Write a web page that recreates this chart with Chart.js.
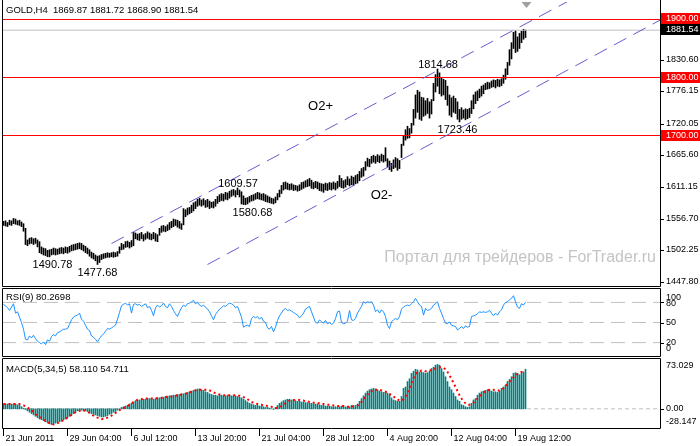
<!DOCTYPE html>
<html>
<head>
<meta charset="utf-8">
<script src="https://cdn.jsdelivr.net/npm/chart.js@4.4.1/dist/chart.umd.min.js"></script>
<style>
  body { margin: 0; background: #fff; }
  #wrap { position: relative; width: 700px; height: 446px; overflow: hidden; }
  canvas { position: absolute; left: 0; }
</style>
</head>
<body>
<div id="wrap">
  <canvas id="priceChart" width="700" height="288" style="top:0px"></canvas>
  <canvas id="rsiChart" width="700" height="69" style="top:288px"></canvas>
  <canvas id="macdChart" width="700" height="89" style="top:357px"></canvas>
</div>
<script>
document.addEventListener("DOMContentLoaded", () => {

const FONT = "'Liberation Sans', Arial, sans-serif";

// H4 bars (index 0 = first bar on the left)
const highs = [
  1552,1553,1550,1554,1553,1557,1556,1553,1554,1551,
  1548,1540,1520,1523,1524,1522,1523,1520,1517,1508,
  1506,1505,1502,1503,1504,1506,1505,1504,1506,1507,
  1506,1508,1507,1509,1511,1512,1513,1514,1515,1514,
  1511,1509,1506,1503,1499,1497,1494,1492,1493,1495,
  1496,1497,1498,1497,1498,1499,1498,1500,1508,1514,
  1512,1517,1518,1516,1519,1533,1532,1530,1531,1533,
  1529,1531,1534,1532,1530,1533,1531,1529,1540,1544,
  1545,1543,1546,1550,1552,1556,1555,1554,1552,1548,
  1574,1572,1575,1576,1580,1584,1586,1590,1592,1589,
  1591,1588,1590,1587,1585,1586,1590,1595,1598,1600,
  1599,1602,1601,1604,1606,1607,1605,1609.57,1606,1603,
  1596,1592,1593,1595,1597,1598,1600,1602,1601,1599,
  1600,1598,1596,1594,1592,1591,1594,1600,1606,1614,
  1619,1620,1618,1616,1617,1615,1614,1613,1615,1619,
  1620,1622,1624,1626,1623,1619,1621,1620,1618,1617,
  1616,1618,1617,1619,1618,1620,1618,1621,1631,1626,
  1622,1624,1629,1625,1630,1628,1631,1633,1638,1643,
  1645,1655,1661,1659,1664,1666,1664,1667,1665,1668,
  1666,1679,1660,1656,1652,1658,1662,1660,1657,1685,
  1700,1710,1716,1712,1721,1745,1770,1778,1775,1766,
  1765,1760,1764,1758,1762,1790,1805,1814.68,1808,1800,
  1797,1795,1785,1770,1765,1768,1764,1758,1745,1748,
  1744,1746,1745,1747,1760,1770,1775,1777,1780,1785,
  1787,1790,1792,1791,1794,1796,1795,1797,1796,1798,
  1804,1815,1826,1848,1860,1878,1881,1870,1876,1880,
  1883,1881.72
];
const lows = [
  1545,1544,1543,1546,1545,1548,1547,1546,1545,1543,
  1535,1512,1510,1513,1514,1512,1514,1508,1498,1496,
  1494,1493,1491,1490.78,1494,1495,1494,1495,1496,1497,
  1496,1498,1497,1499,1501,1502,1503,1504,1505,1503,
  1501,1498,1496,1492,1489,1487,1484,1477.68,1481,1486,
  1488,1489,1490,1490,1491,1490,1491,1492,1497,1503,
  1504,1507,1508,1506,1508,1510,1522,1520,1519,1522,
  1518,1521,1523,1521,1520,1522,1518,1517,1528,1533,
  1535,1534,1536,1538,1541,1543,1545,1542,1540,1538,
  1546,1560,1563,1565,1567,1570,1574,1578,1580,1578,
  1580,1576,1577,1574,1576,1575,1578,1583,1586,1588,
  1587,1590,1589,1592,1595,1597,1594,1598,1594,1582,
  1581,1580.68,1582,1585,1587,1588,1590,1591,1590,1589,
  1588,1586,1585,1584,1583,1582,1584,1589,1594,1600,
  1606,1608,1607,1606,1607,1605,1606,1604,1605,1607,
  1609,1611,1612,1613,1609,1608,1610,1608,1605,1604,
  1602,1606,1605,1607,1606,1608,1606,1609,1612,1610,
  1609,1611,1615,1613,1615,1614,1617,1618,1622,1628,
  1630,1640,1647,1646,1652,1654,1652,1655,1653,1656,
  1654,1656,1646,1641,1638,1643,1645,1640,1643,1662,
  1683,1692,1695,1696,1704,1718,1730,1740,1728,1726,
  1733,1735,1738,1730,1737,1760,1775,1785,1772,1768,
  1770,1762,1752,1735,1732,1740,1738,1728,1723.46,1728,
  1730,1727,1729,1731,1738,1746,1755,1760,1765,1768,
  1772,1779,1780,1781,1783,1784,1782,1785,1784,1786,
  1790,1797,1805,1821,1832,1850,1843,1845,1850,1860,
  1866,1868.90
];

const rsiValues = [
  77,75,72,68,73,78,64,66,58,50,
  40,25,24,30,27,31,26,22,20,18,
  21,17,24,22,29,32,30,35,36,38,
  40,40,41,47,54,58,60,61,64,55,
  52,46,40,38,30,28,25,21,26,30,
  33,37,41,40,42,44,46,55,65,75,
  77,79,76,78,64,77,78,76,77,74,
  76,78,72,74,68,60,72,76,73,75,
  79,74,72,78,74,68,63,59,66,72,
  76,74,78,79,81,83,78,80,76,74,
  76,73,70,66,60,54,62,66,70,72,
  75,74,77,79,78,76,72,74,66,58,
  43,45,46,44,56,59,57,59,55,58,
  52,50,42,40,44,36,43,53,60,64,
  69,71,68,69,67,65,63,61,57,60,
  64,70,72,74,66,58,50,49,54,51,
  49,53,48,50,47,49,56,66,67,50,
  48,49,52,68,54,53,56,64,69,74,
  81,79,81,80,81,76,66,69,64,69,
  66,59,46,41,51,54,56,54,59,70,
  73,75,76,75,78,81,86,81,76,74,
  61,71,68,69,71,76,78,81,71,64,
  56,49,48,51,46,45,44,39,41,44,
  41,45,43,44,59,60,61,63,66,65,
  66,65,66,68,64,60,64,61,66,69,
  76,80,81,84,86,90,81,73,71,78,
  76,80.27
];

const macdMain = [
  7,7,7,7,7,7,7,6,5,3,
  1,-1,-3,-5,-7,-9,-11,-13,-15,-16,
  -17,-19,-20,-22,-23,-22,-21,-20,-19,-18,
  -16,-15,-13,-11,-9,-7,-5,-3,-2,-2,
  -3,-3,-4,-5,-7,-8,-9,-10,-11,-12,
  -12,-11,-10,-8,-7,-5,-4,-2,0,2,
  3,4,5,7,8,10,12,12,13,13,
  14,14,15,15,15,14,15,16,16,17,
  17,18,18,19,19,20,20,21,21,22,
  22,23,24,25,26,27,28,29,29,28,
  27,25,24,22,21,20,20,19,20,20,
  19,19,20,20,19,19,19,18,17,16,
  14,12,10,8,7,6,5,5,4,4,
  3,2,2,1,0,-1,2,5,8,10,
  12,13,14,14,13,13,12,11,11,10,
  10,9,9,8,8,7,7,7,6,5,
  5,4,4,4,3,3,3,2,3,4,
  3,3,2,3,5,3,5,7,11,15,
  19,23,26,28,29,30,29,28,26,25,
  24,24,23,20,16,13,12,11,11,18,
  30,32,40,44,52,55,58,57,54,54,
  53,52,53,55,59,61,64,65,64,59,
  54,47,40,32,28,23,18,13,11,6,
  5,3,2,3,8,13,15,20,23,25,
  26,27,28,28,26,25,25,24,26,30,
  32,35,40,43,47,52,53,52,50,52,
  54,58.11
];
const macdSignal = [
  7,7,7,7,7,7,7,7,7,6,
  5,4,2,0,-2,-5,-8,-10,-12,-14,
  -16,-18,-20,-21,-22,-23,-22,-21,-20,-18,
  -17,-15,-13,-11,-9,-7,-5,-4,-3,-2,
  -2,-3,-4,-6,-8,-10,-12,-13,-14,-15,
  -15,-14,-13,-12,-10,-8,-6,-4,-2,0,
  1,2,4,6,8,10,12,13,14,14,
  15,15,15,15,15,15,15,16,16,16,
  17,17,18,18,18,19,19,20,20,21,
  21,22,23,24,25,26,27,28,28,28,
  28,28,28,27,26,24,23,22,21,21,
  20,20,20,20,20,20,20,19,19,18,
  17,16,14,12,10,9,8,7,6,6,
  5,5,4,3,3,2,1,1,2,4,
  6,8,10,12,13,13,13,13,13,12,
  12,11,11,10,10,9,9,8,8,7,
  7,6,6,6,5,5,5,4,4,4,
  4,3,3,3,3,4,4,5,7,10,
  14,18,21,24,26,28,28,28,28,27,
  26,25,24,22,20,18,16,14,12,12,
  14,18,24,30,38,45,50,54,55,56,
  56,55,55,56,57,58,59,60,61,61,
  60,58,54,49,44,38,32,26,20,15,
  11,8,6,6,7,9,12,15,18,21,
  24,26,27,28,28,28,27,27,27,28,
  30,33,36,40,43,46,49,51,53,54,
  54,54.711
];

const dateIndex = [0, 32, 64, 96, 128, 160, 192, 224, 256];
const dateLabels = ["21 Jun 2011", "29 Jun 04:00", "6 Jul 12:00", "13 Jul 20:00",
  "21 Jul 04:00", "28 Jul 12:00", "4 Aug 20:00", "12 Aug 04:00", "19 Aug 12:00"];

const priceTicks = [1447.80, 1502.25, 1556.70, 1611.15, 1665.60, 1720.05, 1776.15, 1830.60];
const levelPrices = [1900, 1800, 1700];
const bidPrice = 1881.54;
const upperChannel = [[54, 1513.8], [290, 1945.5]];
const lowerChannel = [[102, 1477.6], [328.25, 1898.9]];

const rsiLevels = [80, 50, 20];
const rsiTickLabels = [100, 80, 50, 20, 0];
const macdTickLabels = [73.029, 0, -28.147];
const macdTickText = ["73.029", "0.00", "-28.147"];

const X_MIN = -0.75, X_MAX = 328.25;

// text marks placed on the price scale
const pointNotes = [
  { i: 24.5, p: 1490.78, text: "1490.78", dy: 8 },
  { i: 47, p: 1477.68, text: "1477.68", dy: 9 },
  { i: 117.3, p: 1609.57, text: "1609.57", dy: -4 },
  { i: 124.5, p: 1580.68, text: "1580.68", dy: 8 },
  { i: 217.3, p: 1814.68, text: "1814.68", dy: -4 },
  { i: 227, p: 1723.46, text: "1723.46", dy: 8 }
];
const waveNotes = [
  { i: 158.5, p: 1750, text: "O2+" },
  { i: 189, p: 1596.6, text: "O2-" }
];

function xAxis(show) {
  const axis = {
    type: "linear", min: X_MIN, max: X_MAX, offset: false, display: show,
    afterBuildTicks: s => { s.ticks = dateIndex.map(v => ({ value: v })); },
    ticks: {
      autoSkip: false, maxRotation: 0, minRotation: 0, align: "start",
      labelOffset: 2, padding: -3, color: "#000", font: { family: FONT, size: 9 },
      callback: v => dateLabels[dateIndex.indexOf(v)]
    },
    grid: { display: true, offset: false, drawOnChartArea: false, drawTicks: true, tickLength: 8, color: "#000" },
    border: { display: false }
  };
  if (show) axis.afterFit = s => { s.height = 18; };
  return axis;
}

function hLine(value, color, dash, width) {
  return {
    type: "line", order: 1,
    data: [{ x: X_MIN, y: value }, { x: X_MAX, y: value }],
    borderColor: color, borderWidth: width || 1, borderDash: dash || [],
    pointRadius: 0, tension: 0
  };
}

function frame(chart, withTop) {
  const { ctx, chartArea: a } = chart;
  const l = a.left + 0.5, r = a.right + 0.5, b = a.bottom + 0.5;
  const t = withTop ? a.top - 0.5 : 0;
  ctx.save();
  ctx.strokeStyle = "#000";
  ctx.lineWidth = 1;
  ctx.beginPath();
  ctx.moveTo(l, t); ctx.lineTo(l, b); ctx.lineTo(r, b); ctx.lineTo(r, t);
  if (withTop) ctx.lineTo(l, t);
  ctx.stroke();
  ctx.restore();
}

function sideText(chart, y, text, bg, fg, tick) {
  const { ctx, chartArea: a } = chart;
  ctx.save();
  if (tick) {
    ctx.strokeStyle = "#000";
    ctx.beginPath();
    ctx.moveTo(a.right + 1, Math.round(y) + 0.5);
    ctx.lineTo(a.right + 4, Math.round(y) + 0.5);
    ctx.stroke();
  }
  if (bg) {
    ctx.fillStyle = bg;
    ctx.fillRect(a.right + 1, Math.round(y) - 6, 40, 11);
  }
  ctx.fillStyle = fg || "#000";
  ctx.font = "9px " + FONT;
  ctx.textAlign = "left";
  ctx.textBaseline = "middle";
  ctx.fillText(text, a.right + 6, Math.round(y));
  ctx.restore();
}

function caption(chart, text, y) {
  const { ctx } = chart;
  ctx.save();
  ctx.fillStyle = "#000";
  ctx.font = "9.5px " + FONT;
  ctx.textAlign = "left";
  ctx.textBaseline = "middle";
  ctx.fillText(text, 6, y);
  ctx.restore();
}

const baseOpts = (yMin, yMax, padding, showX) => ({
  responsive: false,
  animation: false,
  events: [],
  layout: { padding },
  plugins: { legend: { display: false }, tooltip: { enabled: false } },
  scales: {
    x: xAxis(showX),
    y: { display: false, min: yMin, max: yMax }
  }
});

// ---------- price panel ----------
const priceDecor = {
  id: "priceDecor",
  beforeDatasetsDraw(chart) {
    const { ctx, chartArea: a } = chart;
    ctx.save();
    ctx.fillStyle = "#c4c4c4";
    ctx.font = "16px " + FONT;
    ctx.textAlign = "right";
    ctx.textBaseline = "middle";
    ctx.fillText("Портал для трейдеров - ForTrader.ru", a.right - 4, 258);
    ctx.restore();
  },
  afterDraw(chart) {
    const { ctx, chartArea: a, scales: { x, y } } = chart;
    frame(chart, false);
    priceTicks.forEach(v => sideText(chart, y.getPixelForValue(v), v.toFixed(2), null, "#000", true));
    levelPrices.forEach(v => sideText(chart, y.getPixelForValue(v), v.toFixed(2), "#ff0000", "#fff", false));
    sideText(chart, y.getPixelForValue(bidPrice), bidPrice.toFixed(2), "#000", "#fff", false);

    ctx.save();
    ctx.fillStyle = "#000";
    ctx.textAlign = "center";
    ctx.textBaseline = "middle";
    ctx.font = "11px " + FONT;
    pointNotes.forEach(n => ctx.fillText(n.text, x.getPixelForValue(n.i), y.getPixelForValue(n.p) + n.dy));
    ctx.font = "13px " + FONT;
    waveNotes.forEach(n => ctx.fillText(n.text, x.getPixelForValue(n.i), y.getPixelForValue(n.p)));

    // shift marker over the last bar
    const mx = Math.round(x.getPixelForValue(highs.length - 1)) + 0.5;
    ctx.fillStyle = "#a0a0a0";
    ctx.beginPath();
    ctx.moveTo(mx - 5, a.top);
    ctx.lineTo(mx + 5, a.top);
    ctx.lineTo(mx, a.top + 6);
    ctx.closePath();
    ctx.fill();
    ctx.restore();

    caption(chart, "GOLD,H4  1869.87 1881.72 1868.90 1881.54", 10);
  }
};

const channelStyle = { type: "line", order: 0, borderColor: "#6a5acd", borderWidth: 1,
  borderDash: [14, 8], pointRadius: 0, tension: 0 };

new Chart(document.getElementById("priceChart"), {
  type: "bar",
  data: {
    datasets: [
      Object.assign({}, channelStyle, { data: upperChannel.map(([i, p]) => ({ x: i, y: p })) }),
      Object.assign({}, channelStyle, { data: lowerChannel.map(([i, p]) => ({ x: i, y: p })) }),
      ...levelPrices.map(v => hLine(v, "#ff0000")),
      hLine(bidPrice, "#c0c0c0"),
      {
        type: "bar", order: 2,
        data: highs.map((h, i) => ({ x: i, y: [lows[i], h] })),
        backgroundColor: "#000", borderWidth: 0, barThickness: 1, grouped: false
      }
    ]
  },
  options: baseOpts(1440.56, 1930.16, { left: 2, right: 40, top: 2, bottom: 2 }, false),
  plugins: [priceDecor]
});

// ---------- RSI panel ----------
const rsiDecor = {
  id: "rsiDecor",
  afterDraw(chart) {
    const { scales: { y } } = chart;
    frame(chart, true);
    const shift = { 100: 9, 80: 2, 0: -7 };
    rsiTickLabels.forEach(v => {
      const py = y.getPixelForValue(v);
      sideText(chart, py + (shift[v] || 0), String(v), null, "#000", false);
      if (rsiLevels.includes(v)) sideText(chart, py, "", null, "#000", true);
    });
    caption(chart, "RSI(9) 80.2698", 9);
  }
};

new Chart(document.getElementById("rsiChart"), {
  type: "line",
  data: {
    datasets: [
      {
        data: rsiValues.map((v, i) => ({ x: i, y: v })),
        borderColor: "#1e90ff", borderWidth: 1, pointRadius: 0, tension: 0, order: 0
      },
      ...rsiLevels.map(v => hLine(v, "#c0c0c0", [14, 7]))
    ]
  },
  options: baseOpts(0, 100, { left: 2, right: 40, top: 1, bottom: 1 }, false),
  plugins: [rsiDecor]
});

// ---------- MACD panel ----------
const macdDecor = {
  id: "macdDecor",
  afterDraw(chart) {
    const { scales: { y } } = chart;
    frame(chart, true);
    const shift = [7, 0, -6.5];
    macdTickLabels.forEach((v, k) => {
      sideText(chart, y.getPixelForValue(v) + shift[k], macdTickText[k], null, "#000", k === 1);
    });
    caption(chart, "MACD(5,34,5) 58.110 54.711", 12);
  }
};

new Chart(document.getElementById("macdChart"), {
  type: "bar",
  data: {
    datasets: [
      {
        type: "line", order: 0,
        data: macdSignal.map((v, i) => ({ x: i, y: v })),
        borderColor: "#ff0000", borderWidth: 2, borderDash: [2, 3], pointRadius: 0, tension: 0
      },
      Object.assign(hLine(0, "#c0c0c0", [4, 3]), { order: 3 }),
      {
        type: "bar", order: 2,
        data: macdMain.map((v, i) => ({ x: i, y: v })),
        backgroundColor: "#008080", borderWidth: 0, barThickness: 1, grouped: false
      }
    ]
  },
  options: baseOpts(-28.147, 73.029, { left: 2, right: 40, top: 2, bottom: 0 }, true),
  plugins: [macdDecor]
});

});
</script>
</body>
</html>
